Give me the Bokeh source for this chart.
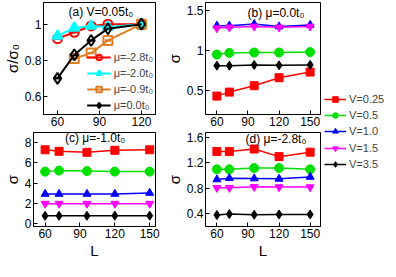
from bokeh.plotting import figure
from bokeh.layouts import column, row
from bokeh.models import (Range1d, Legend, LegendItem, Label, Whisker, ColumnDataSource,
                          FixedTicker, CustomJSTickFormatter, TeeHead)
from bokeh.embed import file_html
from bokeh.resources import INLINE

FONT = "Liberation Sans"

# ---------------- data ----------------
# panel (a): sigma/sigma0 vs L at V=0.05t0
a_L = [60, 72, 84, 96, 120]
a_mu28 = [0.92, 0.955, 0.99, 1.0, 1.0]
a_mu28_err = [0.0, 0.0, 0.0, 0.0, 0.012]
a_mu20 = [0.935, 0.98, 0.99, 0.985, 1.0]
a_mu20_err = [0.0, 0.0, 0.0, 0.0, 0.012]
a_L09 = [72, 84, 96, 120]
a_mu09 = [0.81, 0.84, 0.91, 1.0]
a_mu09_err = [0.0, 0.0, 0.0, 0.015]
a_mu00 = [0.70, 0.83, 0.91, 0.975, 1.0]
a_mu00_err = [0.0, 0.0, 0.0, 0.0, 0.025]

# panels (b)-(d): sigma vs L
L_vals = [60, 72, 96, 120, 150]
V_labels = ["V=0.25", "V=0.5", "V=1.0", "V=1.5", "V=3.5"]
b_sigma = [
    [0.43, 0.48, 0.56, 0.66, 0.73],
    [0.95, 0.97, 0.975, 0.975, 0.98],
    [1.31, 1.31, 1.33, 1.30, 1.32],
    [1.28, 1.29, 1.30, 1.29, 1.30],
    [0.81, 0.81, 0.82, 0.815, 0.82],
]
c_sigma = [
    [7.30, 7.15, 7.05, 7.25, 7.30],
    [5.15, 5.25, 5.20, 5.15, 5.15],
    [2.95, 2.95, 2.95, 2.95, 3.05],
    [2.00, 2.00, 2.00, 2.00, 2.00],
    [0.80, 0.80, 0.80, 0.82, 0.82],
]
d_sigma = [
    [1.38, 1.38, 1.42, 1.30, 1.37],
    [1.10, 1.10, 1.12, 1.12, 1.10],
    [0.94, 0.96, 0.955, 0.95, 0.98],
    [0.81, 0.81, 0.825, 0.82, 0.82],
    [0.38, 0.395, 0.385, 0.39, 0.39],
]

V_colors = ["#ff0000", "#00e000", "#0000ff", "#ff00ff", "#000000"]
V_markers = ["square", "circle", "triangle", "inverted_triangle", "diamond"]
V_sizes = [8, 9, 8, 8, 9]

fmt = CustomJSTickFormatter(code="return tick.toString();")


def style_axis(ax):
    ax.formatter = fmt
    ax.major_tick_in = 4
    ax.major_tick_out = 0
    ax.minor_tick_line_color = None
    ax.axis_line_color = "black"
    ax.major_tick_line_color = "black"
    ax.major_label_text_font = FONT
    ax.major_label_text_font_size = "12px"
    ax.major_label_text_color = "black"
    ax.major_label_standoff = 2
    ax.axis_label_text_font = FONT
    ax.axis_label_text_font_size = "15px"
    ax.axis_label_text_font_style = "normal"
    ax.axis_label_text_color = "black"
    ax.axis_label_standoff = 1


def make_fig(xr, yr, xticks, yticks, w, h, left, right, top, bottom, ylabel, xlabel=None):
    p = figure(width=w, height=h, x_range=Range1d(*xr), y_range=Range1d(*yr),
               output_backend="svg", toolbar_location=None,
               min_border_left=left, min_border_right=right,
               min_border_top=top, min_border_bottom=bottom)
    p.grid.visible = False
    p.outline_line_color = "black"
    p.outline_line_width = 1
    p.background_fill_color = "white"
    p.border_fill_color = "white"
    p.xaxis.ticker = FixedTicker(ticks=xticks)
    p.yaxis.ticker = FixedTicker(ticks=yticks)
    style_axis(p.xaxis[0])
    style_axis(p.yaxis[0])
    p.yaxis[0].axis_label = ylabel
    if xlabel:
        p.xaxis[0].axis_label = xlabel
    return p


def add_title(p, x, y, text):
    p.add_layout(Label(x=x, y=y, text=text, text_align="center", text_baseline="middle",
                       text_font=FONT, text_font_size="12px", text_color="black"))


def make_legend(items, loc, gw=22, margin=0):
    return Legend(items=items, location=loc, margin=margin, padding=0, spacing=2,
                  glyph_width=gw, glyph_height=14, label_height=14, label_standoff=3,
                  label_text_font=FONT, label_text_font_size="11px",
                  background_fill_alpha=0, border_line_color=None)


# ---------------- panel (a) ----------------
pa = make_fig((50, 130), (0.5, 1.12), [60, 90, 120], [0.6, 0.8, 1.0],
              162, 130, 33, 7, 2, 16, "σ/σ₀")
a_series = [
    ("μ=-2.8t₀", a_L, a_mu28, a_mu28_err, "#ff0000", "circle", 9, None),
    ("μ=-2.0t₀", a_L, a_mu20, a_mu20_err, "#00ffff", "triangle", 10, "#00ffff"),
    ("μ=-0.9t₀", a_L09, a_mu09, a_mu09_err, "#e07f26", "square", 9, None),
    ("μ=0.0t₀", a_L, a_mu00, a_mu00_err, "#000000", "diamond", 11, None),
]
a_items = []
for lab, xs, ys, es, col, mk, sz, fill in a_series:
    src = ColumnDataSource(dict(x=xs, y=ys, lo=[y - e for y, e in zip(ys, es)],
                                hi=[y + e for y, e in zip(ys, es)]))
    ln = pa.line("x", "y", source=src, line_color=col, line_width=2)
    pa.add_layout(Whisker(source=src, base="x", lower="lo", upper="hi", line_color=col,
                          line_width=2,
                          lower_head=TeeHead(size=6, line_color=col, line_width=2),
                          upper_head=TeeHead(size=6, line_color=col, line_width=2)))
    sc = pa.scatter("x", "y", source=src, marker=mk, size=sz, line_color=col, line_width=2,
                    fill_color=fill if fill else "white", fill_alpha=1.0 if fill else 0.0)
    a_items.append(LegendItem(label=lab, renderers=[ln, sc]))
pa.add_layout(make_legend(a_items, "bottom_right", gw=24, margin=2))
add_title(pa, 91, 1.065, "(a) V=0.05t₀")


def fill_sigma_panel(p, data):
    for i, ys in enumerate(data):
        col = V_colors[i]
        p.line(L_vals, ys, line_color=col, line_width=1.5)
        p.scatter(L_vals, ys, marker=V_markers[i], size=V_sizes[i], line_color=col,
                  fill_color=col)


# ---------------- panel (b) ----------------
pb = make_fig((49, 160), (0.2, 1.6), [60, 90, 120, 150], [0.5, 1.0, 1.5],
              162, 130, 29, 4, 2, 16, "σ")
fill_sigma_panel(pb, b_sigma)
add_title(pb, 117, 1.475, "(b) μ=0.0t₀")

# ---------------- panel (c) ----------------
pc = make_fig((50, 155), (-0.25, 9), [60, 90, 120, 150], [0, 2, 4, 6, 8],
              162, 131, 33, 7, 2, 27, "σ", "L")
fill_sigma_panel(pc, c_sigma)
add_title(pc, 103, 8.42, "(c) μ=-1.0t₀")

# ---------------- panel (d) ----------------
pd_ = make_fig((49, 160), (0.2, 1.68), [60, 90, 120, 150], [0.4, 0.8, 1.2, 1.6],
               162, 131, 29, 4, 2, 27, "σ", "L")
fill_sigma_panel(pd_, d_sigma)
add_title(pd_, 117, 1.585, "(d) μ=-2.8t₀")

# ---------------- shared legend for (b)-(d) ----------------
# the legend strip re-uses the (b) series; its range keeps them out of view,
# so only the legend samples show
pl = figure(width=62, height=261, x_range=Range1d(0, 1), y_range=Range1d(0, 1),
            output_backend="svg", toolbar_location=None,
            x_axis_type=None, y_axis_type=None,
            min_border_left=0, min_border_right=0, min_border_top=0, min_border_bottom=0)
pl.grid.visible = False
pl.outline_line_color = None
v_items = []
for i in range(len(V_labels)):
    col = V_colors[i]
    ln = pl.line(L_vals, b_sigma[i], line_color=col, line_width=1.5)
    sc = pl.scatter(L_vals, b_sigma[i], marker=V_markers[i], size=V_sizes[i],
                    line_color=col, fill_color=col)
    v_items.append(LegendItem(label=V_labels[i], renderers=[ln, sc]))
pl.add_layout(make_legend(v_items[:3], (0, 123)))
pl.add_layout(make_legend(v_items[3:], (0, 90)))

layout = row(column(row(pa, pb), row(pc, pd_)), pl)
open("out.html", "w").write(file_html(layout, INLINE))
